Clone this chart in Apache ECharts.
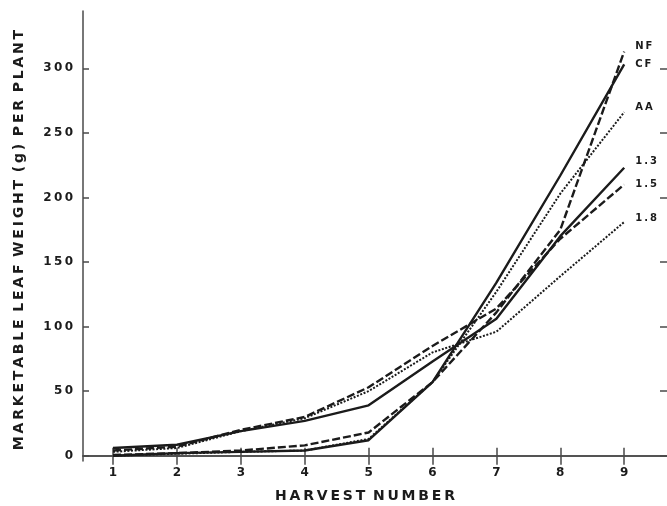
<!DOCTYPE html>
<html>
<head>
<meta charset="utf-8">
<script src="https://cdn.jsdelivr.net/npm/echarts@6/dist/echarts.min.js"></script>
<style>
html,body{margin:0;padding:0;background:#fff;}
#chart{width:667px;height:506px;}
</style>
</head>
<body>
<div id="chart"></div>
<script>
// ---- data ----
var harvests = [1, 2, 3, 4, 5, 6, 7, 8, 9];
var yTicks = [0, 50, 100, 150, 200, 250, 300];
var seriesNames = ['NF', 'CF', 'AA', '1.3', '1.5', '1.8'];
var NF   = [0.5, 2, 4, 8, 18, 57, 111, 175, 313];
var CF   = [0, 2, 3, 4, 12, 57, 134, 217, 303];
var AA   = [0, 1.5, 3, 4, 13, 57, 127, 203, 266];
var r13  = [6, 8.5, 19, 27, 39, 73, 106, 170, 223];
var r15  = [4, 7, 20, 30, 53, 85, 114, 168, 210];
var r18  = [3, 6, 19, 29, 50, 80, 96, 139, 181];
var xTitle = 'HARVEST NUMBER';
var yTitle = 'MARKETABLE LEAF WEIGHT (g) PER PLANT';

// ---- presentation ----
var THIN = '\u2009';
function spaced(s) {
  return s.split(' ').map(function (w) { return w.split('').join(THIN); }).join(' ' + THIN);
}
function pairs(vals) { return harvests.map(function (h, i) { return [h, vals[i]]; }); }

var ink = '#1b1b1b';
var axisCol = '#4a4a4a';
var font = 'DejaVu Sans';

var styles = {
  'NF':  {type: [8, 3], width: 2.4, off: [0, -5]},
  'CF':  {type: 'solid', width: 2.4, off: [0, 0]},
  'AA':  {type: [2, 1.6], width: 2, off: [0, -5]},
  '1.3': {type: 'solid', width: 2.4, off: [0, -6]},
  '1.5': {type: [8, 3], width: 2.4, off: [0, 0]},
  '1.8': {type: [2, 1.6], width: 2, off: [0, -4]}
};
var values = {'NF': NF, 'CF': CF, 'AA': AA, '1.3': r13, '1.5': r15, '1.8': r18};

var chart = echarts.init(document.getElementById('chart'), null, {renderer: 'canvas'});

var xCommon = {
  type: 'value', min: 0.53, max: 9.67,
  splitLine: {show: false},
  axisLine: {show: true, lineStyle: {color: axisCol, width: 1.5}}
};
var yCommon = {
  type: 'value', min: -4.1, max: 344.4,
  splitLine: {show: false},
  axisLine: {show: true, lineStyle: {color: axisCol, width: 1.5}}
};

var option = {
  animation: false,
  backgroundColor: '#fff',
  grid: {left: 83, top: 11, right: 0, bottom: 45, containLabel: false, outerBoundsMode: 'none'},
  xAxis: [
    Object.assign({}, xCommon, {
      position: 'bottom',
      name: spaced(xTitle), nameLocation: 'middle', nameGap: 28,
      nameTextStyle: {fontFamily: font, fontWeight: 'bold', fontSize: 14, color: ink, padding: [0, 20, 0, 0]},
      axisTick: {show: true, inside: true, length: 8, customValues: harvests, lineStyle: {color: axisCol, width: 1.5}},
      axisLabel: {show: true, customValues: harvests, margin: 6, fontFamily: font, fontWeight: 'bold', fontSize: 12, color: ink}
    }),
    Object.assign({}, xCommon, {
      position: 'top',
      axisTick: {show: true, inside: true, length: 9, customValues: harvests, lineStyle: {color: axisCol, width: 1.5}},
      axisLabel: {show: false}
    })
  ],
  yAxis: [
    Object.assign({}, yCommon, {
      position: 'left',
      name: spaced(yTitle), nameLocation: 'middle', nameGap: 57, nameRotate: 90,
      nameTextStyle: {fontFamily: font, fontWeight: 'bold', fontSize: 14, color: ink, padding: [0, 8, 0, 0]},
      axisTick: {show: true, inside: true, length: 6, customValues: yTicks, lineStyle: {color: axisCol, width: 1.5}},
      axisLabel: {show: true, customValues: yTicks, margin: 10, fontFamily: font, fontWeight: 'bold', fontSize: 12, color: ink,
        formatter: function (v) { return String(v).split('').join(THIN); }}
    }),
    Object.assign({}, yCommon, {
      position: 'right',
      axisLine: {show: false},
      axisTick: {show: true, inside: true, length: 7, customValues: yTicks, lineStyle: {color: axisCol, width: 1.5}},
      axisLabel: {show: false}
    })
  ],
  series: seriesNames.map(function (n) {
    var st = styles[n];
    return {
      name: n, type: 'line', xAxisIndex: 0, yAxisIndex: 0,
      data: pairs(values[n]),
      symbol: 'none', smooth: false,
      lineStyle: {color: ink, width: st.width, type: st.type, cap: 'butt'},
      endLabel: {
        show: true, distance: 11, offset: st.off,
        formatter: function (p) { return p.seriesName.split('').join(THIN); },
        fontFamily: font, fontWeight: 'bold', fontSize: 10, color: ink
      },
      emphasis: {disabled: true}
    };
  })
};
chart.setOption(option);
</script>
</body>
</html>
